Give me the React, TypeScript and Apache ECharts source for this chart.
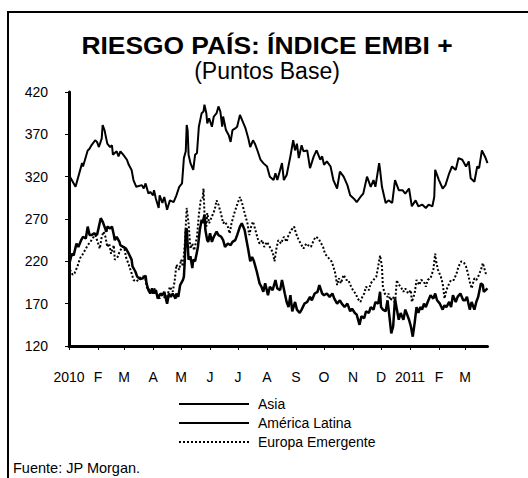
import React, { useEffect, useRef } from "react";
import * as echarts from "echarts";

const FONT = "'Liberation Sans', Arial, sans-serif";

// x axis: one category per calendar day from 2010-01-01 to 2011-03-25
const START_DATE = Date.UTC(2010, 0, 1);
const NUM_DAYS = 449;
const monthLabels = ["2010", "F", "M", "A", "M", "J", "J", "A", "S", "O", "N", "D", "2011", "F", "M"];
const yTicks = { min: 120, max: 420, step: 50 };

const seriesNames = ["Asia", "América Latina", "Europa Emergente"];

// [day index since 2010-01-01, points]
const asia: [number, number][] = [
  [1, 320], [7, 308], [14, 336], [15, 332], [20, 351], [22, 353], [24, 357], [28, 363], [30, 361], [32, 355],
  [35, 365], [36, 381], [38, 375], [41, 359], [44, 355], [46, 357], [47, 346], [51, 350], [53, 344], [55, 350],
  [58, 346], [62, 340], [64, 334], [67, 328], [69, 316], [72, 308], [78, 310], [80, 306], [82, 312], [85, 300],
  [87, 302], [90, 298], [91, 304], [93, 294], [96, 283], [97, 298], [100, 289], [102, 296], [105, 281], [108, 292],
  [112, 290], [115, 298], [118, 308], [121, 312], [123, 342], [125, 350], [126, 381], [127, 375], [128, 346], [130, 336],
  [133, 328], [135, 346], [137, 348], [139, 379], [142, 395], [144, 397], [145, 405], [147, 395], [148, 383], [150, 389],
  [153, 379], [155, 391], [158, 395], [160, 403], [162, 397], [164, 379], [165, 391], [168, 375], [171, 369], [173, 361],
  [175, 375], [178, 377], [180, 379], [183, 393], [186, 385], [189, 377], [192, 365], [194, 355], [197, 363], [199, 359],
  [202, 350], [205, 340], [208, 336], [212, 332], [215, 320], [219, 316], [221, 324], [223, 316], [226, 328], [228, 336],
  [230, 316], [233, 322], [237, 344], [240, 363], [242, 351], [244, 359], [246, 342], [249, 357], [251, 350], [255, 351],
  [258, 330], [262, 344], [265, 351], [269, 340], [271, 344], [273, 334], [276, 338], [280, 332], [283, 316], [287, 306],
  [290, 326], [294, 320], [298, 310], [301, 298], [305, 294], [308, 290], [312, 296], [315, 300], [319, 320], [323, 308],
  [326, 316], [328, 308], [332, 336], [333, 328], [335, 308], [339, 289], [342, 292], [346, 289], [349, 316], [353, 304],
  [357, 304], [360, 300], [364, 306], [367, 285], [371, 292], [374, 285], [378, 287], [382, 283], [385, 287], [389, 285],
  [391, 296], [392, 328], [396, 316], [400, 306], [403, 310], [407, 324], [410, 332], [414, 328], [417, 342], [421, 340],
  [425, 332], [428, 338], [430, 318], [434, 314], [437, 332], [439, 330], [442, 351], [446, 342], [448, 336],
];

const americaLatina: [number, number][] = [
  [1, 220], [3, 229], [5, 227], [8, 241], [10, 237], [13, 245], [15, 249], [18, 247], [20, 261], [22, 251],
  [24, 251], [27, 253], [30, 251], [32, 261], [34, 271], [36, 267], [38, 261], [40, 255], [41, 261], [44, 259],
  [46, 261], [48, 251], [49, 245], [51, 249], [54, 243], [55, 239], [58, 237], [61, 235], [64, 229], [67, 222],
  [68, 214], [71, 208], [73, 202], [76, 199], [79, 200], [82, 203], [83, 194], [85, 186], [87, 182], [89, 188],
  [91, 182], [93, 186], [95, 176], [98, 182], [100, 180], [102, 184], [105, 170], [107, 182], [109, 178], [111, 182],
  [114, 176], [115, 182], [117, 178], [119, 192], [122, 198], [123, 202], [124, 222], [125, 257], [126, 259], [128, 222],
  [130, 226], [132, 212], [133, 222], [135, 220], [138, 237], [140, 257], [142, 269], [143, 265], [145, 275], [146, 257],
  [148, 245], [149, 243], [151, 253], [153, 243], [155, 249], [158, 255], [160, 251], [163, 249], [165, 245], [167, 237],
  [170, 241], [173, 239], [175, 243], [178, 245], [180, 251], [183, 261], [185, 265], [188, 257], [190, 245], [192, 233],
  [194, 220], [196, 225], [198, 220], [201, 208], [204, 194], [206, 190], [208, 184], [210, 194], [213, 180], [215, 190],
  [218, 186], [221, 198], [223, 188], [226, 186], [228, 198], [231, 182], [233, 172], [235, 166], [237, 180], [239, 161],
  [242, 172], [244, 163], [247, 159], [249, 163], [252, 170], [255, 172], [258, 178], [260, 174], [263, 182], [266, 184],
  [268, 192], [271, 182], [273, 180], [276, 182], [279, 178], [282, 182], [284, 176], [287, 170], [290, 174], [292, 170],
  [295, 166], [298, 170], [301, 161], [303, 164], [306, 159], [308, 157], [311, 145], [313, 155], [316, 153], [318, 161],
  [321, 159], [323, 166], [326, 163], [328, 172], [331, 170], [333, 184], [334, 166], [336, 163], [339, 161], [341, 174],
  [343, 155], [345, 135], [347, 143], [349, 176], [351, 163], [353, 151], [355, 159], [358, 151], [360, 163], [362, 157],
  [364, 151], [366, 143], [368, 131], [370, 147], [372, 166], [374, 159], [376, 166], [378, 163], [380, 170], [382, 166],
  [384, 172], [387, 180], [390, 176], [392, 182], [394, 174], [397, 170], [400, 163], [402, 168], [404, 166], [407, 172],
  [409, 166], [411, 180], [414, 172], [416, 178], [419, 182], [422, 174], [424, 174], [426, 178], [429, 163], [431, 172],
  [434, 163], [436, 172], [438, 178], [441, 194], [443, 192], [444, 184], [446, 186], [448, 188],
];

const europaEmergente: [number, number][] = [
  [1, 210], [4, 204], [6, 206], [9, 214], [12, 224], [15, 229], [17, 233], [20, 239], [23, 243], [25, 247],
  [28, 251], [30, 245], [33, 235], [35, 249], [37, 255], [39, 249], [41, 237], [43, 241], [45, 229], [48, 239],
  [49, 222], [52, 225], [54, 231], [57, 237], [59, 237], [61, 225], [64, 216], [67, 206], [69, 198], [72, 196],
  [74, 198], [77, 202], [80, 202], [82, 198], [84, 186], [87, 188], [89, 182], [92, 188], [94, 182], [97, 176],
  [99, 180], [101, 180], [104, 174], [106, 182], [108, 190], [111, 184], [113, 196], [115, 216], [118, 210], [120, 222],
  [122, 214], [124, 241], [126, 283], [128, 265], [130, 235], [132, 241], [134, 233], [137, 249], [139, 275], [141, 292],
  [143, 294], [144, 306], [145, 277], [147, 261], [148, 277], [150, 265], [153, 273], [156, 281], [158, 292], [160, 287],
  [163, 275], [165, 265], [167, 267], [170, 261], [172, 253], [174, 265], [177, 277], [180, 287], [183, 296], [185, 290],
  [188, 277], [191, 265], [193, 251], [195, 261], [197, 267], [199, 259], [202, 247], [204, 241], [207, 245], [209, 237],
  [212, 243], [215, 237], [218, 231], [220, 220], [222, 235], [224, 245], [227, 241], [230, 249], [233, 243], [235, 251],
  [238, 257], [241, 261], [243, 253], [246, 245], [248, 241], [251, 235], [254, 241], [256, 239], [259, 237], [262, 245],
  [264, 249], [267, 247], [270, 241], [272, 237], [274, 229], [277, 225], [281, 220], [283, 214], [285, 206], [287, 192],
  [289, 200], [291, 194], [294, 204], [297, 198], [299, 198], [302, 190], [305, 184], [307, 182], [309, 176], [312, 172],
  [314, 178], [316, 182], [318, 190], [321, 186], [323, 194], [326, 198], [329, 202], [331, 214], [333, 227], [335, 214],
  [336, 190], [338, 182], [341, 178], [342, 182], [344, 174], [347, 178], [349, 170], [351, 198], [352, 194], [355, 190],
  [358, 184], [360, 188], [363, 182], [366, 186], [367, 172], [370, 182], [372, 198], [375, 192], [377, 198], [380, 196],
  [382, 190], [384, 198], [387, 200], [390, 210], [392, 229], [393, 220], [395, 210], [398, 202], [400, 194], [402, 176],
  [404, 186], [407, 194], [409, 198], [412, 198], [415, 206], [417, 214], [420, 220], [423, 218], [425, 214], [427, 206],
  [429, 196], [431, 188], [434, 200], [436, 198], [438, 202], [441, 210], [443, 218], [444, 214], [446, 206], [448, 206],
];

const categories: string[] = Array.from({ length: NUM_DAYS }, (_, i) =>
  new Date(START_DATE + i * 86400000).toISOString().slice(0, 10)
);
const isMonthStart = (_idx: number, val: string) => val.slice(8, 10) === "01";
const monthLabel = (val: string) => {
  const y = Number(val.slice(0, 4));
  const m = Number(val.slice(5, 7));
  return monthLabels[(y - 2010) * 12 + m - 1] ?? "";
};

export default function App() {
  const ref = useRef<HTMLDivElement>(null);
  useEffect(() => {
    if (!ref.current) return;
    const chart = echarts.init(ref.current, null, { renderer: "svg" });
    chart.setOption({
      animation: false,
      backgroundColor: "#fff",
      textStyle: { fontFamily: FONT },
      grid: { left: 69, right: 40.5, top: 92, bottom: 132, containLabel: false },
      graphic: [
        {
          type: "rect",
          shape: { x: 8, y: 12, width: 560, height: 520 },
          style: { fill: "none", stroke: "#000", lineWidth: 2 },
          silent: true,
        },
        {
          type: "text",
          x: 267,
          y: 45,
          scaleX: 1.1,
          style: {
            text: "RIESGO PAÍS: ÍNDICE EMBI +",
            font: `bold 24px ${FONT}`,
            fill: "#000",
            align: "center",
            verticalAlign: "middle",
          },
        },
        {
          type: "text",
          x: 267,
          y: 71,
          style: {
            text: "(Puntos Base)",
            font: `23px ${FONT}`,
            fill: "#000",
            align: "center",
            verticalAlign: "middle",
          },
        },
        {
          type: "text",
          x: 13,
          y: 467.5,
          style: {
            text: "Fuente: JP Morgan.",
            font: `14.5px ${FONT}`,
            fill: "#000",
            align: "left",
            verticalAlign: "middle",
          },
        },
      ],
      legend: {
        orient: "vertical",
        left: 178,
        top: 397,
        itemWidth: 70,
        itemHeight: 14,
        itemGap: 5,
        padding: 0,
        itemStyle: { color: "rgba(0,0,0,0)", borderWidth: 0, opacity: 0 },
        textStyle: { fontSize: 14, color: "#000", fontFamily: FONT, padding: [0, 0, 0, 4] },
        data: seriesNames,
      },
      xAxis: {
        type: "category",
        data: categories,
        boundaryGap: false,
        axisLine: { show: true, lineStyle: { color: "#000", width: 3 } },
        axisTick: { show: true, interval: isMonthStart, length: 4, lineStyle: { color: "#000", width: 1 } },
        axisLabel: {
          interval: isMonthStart,
          formatter: monthLabel,
          fontSize: 14,
          color: "#000",
          margin: 24,
          fontFamily: FONT,
        },
        splitLine: { show: false },
      },
      yAxis: {
        type: "value",
        min: yTicks.min,
        max: yTicks.max,
        interval: yTicks.step,
        axisLine: { show: true, lineStyle: { color: "#000", width: 3 } },
        axisTick: { show: true, length: 4, lineStyle: { color: "#000", width: 1 } },
        axisLabel: { fontSize: 14, color: "#000", margin: 21, fontFamily: FONT },
        splitLine: { show: false },
      },
      series: [
        {
          name: seriesNames[0],
          type: "line",
          data: asia,
          symbol: "none",
          lineStyle: { color: "#000", width: 2 },
          itemStyle: { color: "#000" },
        },
        {
          name: seriesNames[1],
          type: "line",
          data: americaLatina,
          symbol: "none",
          z: 3,
          lineStyle: { color: "#000", width: 2.5 },
          itemStyle: { color: "#000" },
        },
        {
          name: seriesNames[2],
          type: "line",
          data: europaEmergente,
          symbol: "none",
          z: 2,
          lineStyle: { color: "#000", width: 2, type: [2, 2] },
          itemStyle: { color: "#000" },
        },
      ],
    });
    return () => chart.dispose();
  }, []);
  return (
    <div
      ref={ref}
      style={{ position: "fixed", left: 0, top: 0, width: 528, height: 478, background: "#fff" }}
    />
  );
}
